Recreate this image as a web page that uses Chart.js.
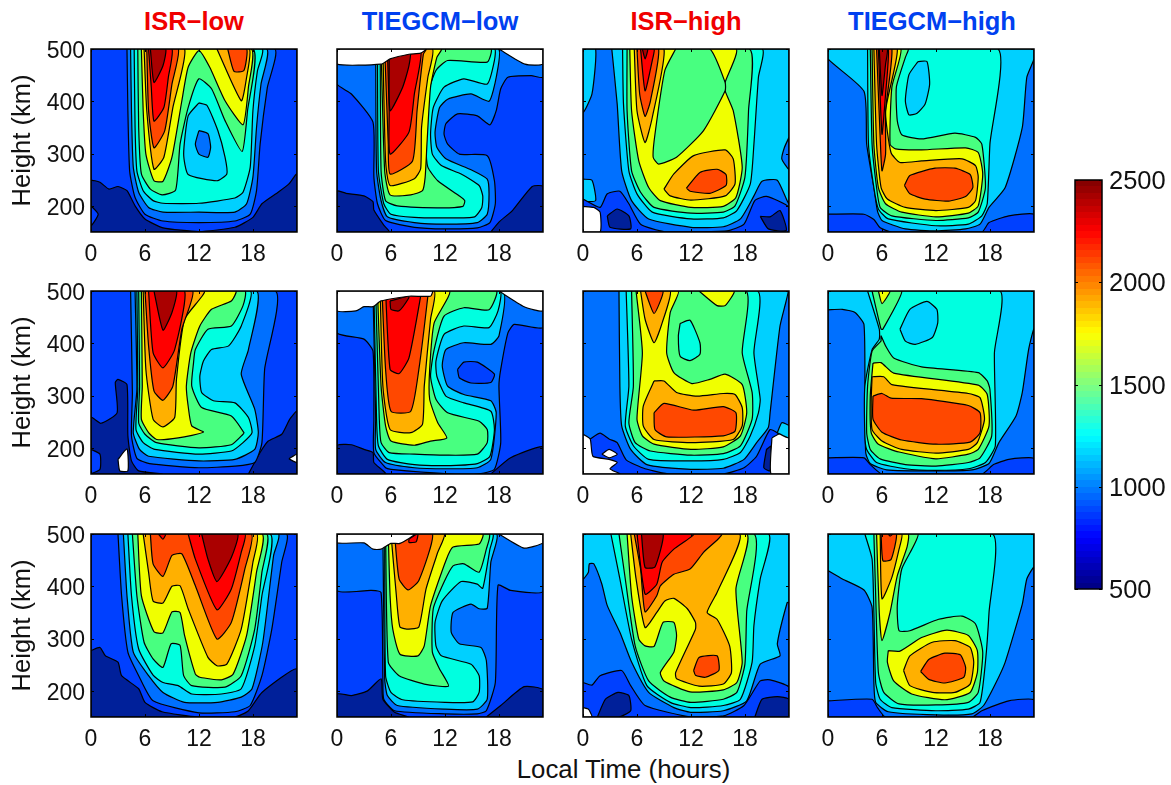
<!DOCTYPE html>
<html><head><meta charset="utf-8">
<script src="https://cdn.jsdelivr.net/npm/chart.js@4"></script>
<style>
html,body{margin:0;padding:0;background:#fff;width:1171px;height:785px;overflow:hidden;font-family:"Liberation Sans",Arial,sans-serif}
canvas{position:absolute}
.t{position:absolute;transform:translateX(-50%);white-space:nowrap}
.h{font-weight:bold;font-size:25.5px;top:7px}
</style></head><body>
<div class="t h" style="left:194px;color:#f00000">ISR−low</div>
<div class="t h" style="left:440px;color:#0040f0">TIEGCM−low</div>
<div class="t h" style="left:686px;color:#f00000">ISR−high</div>
<div class="t h" style="left:932px;color:#0040f0">TIEGCM−high</div>
<div class="t" style="left:623.5px;top:755px;font-size:25.8px;color:#111">Local Time (hours)</div>
<script>
// Band index -> fill colour (contour levels of the 500..2500 scale)
const bandColors=['#00209a','#0040ff','#0070ff','#00d0ff','#00ffe0','#48ff80','#f0ff00','#ffb000','#ff4800','#ff0000','#aa0000'];
const WHITE=-1;
const xTickValues=[0,6,12,18];
const yTickValues=[200,300,400,500];
const colorbarTicks=[500,1000,1500,2000,2500];
const colorbarRange=[500,2500];
const FULL=[0,500,0,150,22.9,150,22.9,500];
// Each panel: [band, [hour,km, hour,km, ...]] painted in order
const isrLow1=[[1,FULL],
[0,[0,150,0,248,1,245,2,232,3,237,4,229,4.9,200,6,175,8,158,12,151,16,159,18,178,19,204,20.8,226,22,242,22.9,261,22.9,150]],
[1,[0,200,0.8,184,0,162]],
[2,[4,500,4.1,382,4.3,266,4.9,216,6,184,8,171,12,168,16,171,17.7,184,18.4,229,18.8,318,19.6,426,20.4,500]],
[3,[4.4,500,4.5,382,4.7,274,5.3,226,6.4,197,8,188,12,188,16,188,17.3,204,18,255,18.4,350,18.9,433,19.5,500]],
[4,[4.8,500,4.9,350,5.1,267,5.8,229,6.9,210,8,205,12,205,16,215,16.9,226,17.7,274,18,382,18.5,458,19,500]],
[5,[5.2,500,5.3,350,5.6,261,6.6,232,7.9,221,9.4,230,9.9,318,10.8,388,12,443,13.4,424,14.9,363,16.8,304,17.4,382,18,500]],
[3,[12,397,10.8,372,10.3,299,10.8,260,14,248,15.1,261,14.9,293,14.1,344,12.9,392]],
[2,[12,344,11.6,318,12,299,13,293,13.3,312,13,338]],
[6,[5.6,500,5.8,382,6.1,299,7,248,8,247,9,293,10.1,401,10.8,465,12,497,13.2,465,14.9,401,16.9,355,17.5,427,17.8,500]],
[7,[5.9,500,6.2,382,7,270,8.1,293,9.1,388,10.4,500]],
[7,[14,500,16.7,401,17.3,446,17.6,500]],
[8,[6.2,500,6.4,382,7,311,8.2,344,9,433,9.7,500]],
[8,[15.2,500,15.9,457,17,459,17.3,500]],
[9,[6.4,500,6.7,427,7,362,8.1,388,8.6,446,9,500]],
[10,[6.6,500,7,436,8,468,8.3,500]]];
const tiegcmLow1=[[1,FULL],
[0,[0,150,0,228,1,224,3,219,4,208,4.1,192,5.2,163,5.8,150]],
[0,[17.1,150,18,169,19.5,191,21.7,237,22.9,237,22.9,150]],
[2,[0,500,0,433,1.6,414,4,360,4.1,255,4.5,204,5.4,172,8.6,159,12,156,15.6,158,17,168,17.6,204,17.5,248,16.7,296,13.6,299,12.3,318,11.9,337,12.1,357,13.4,376,15.6,372,17,355,17.7,382,18.2,424,19,446,21.6,449,22.9,446,22.9,500]],
[3,[4.3,500,4.4,267,4.9,210,5.6,179,8.6,168,12,165,15.6,168,16.7,184,16.9,223,16.7,251,14.9,269,12.1,290,11.1,312,10.9,341,11.4,388,12.3,404,14.9,414,16.9,400,17.7,446,17.9,500]],
[4,[4.5,500,4.6,267,5.2,204,6,184,8.6,178,12,177,15.3,179,16.1,197,16.2,219,15.8,239,13.8,261,11.6,277,10.6,299,10.4,337,10.7,388,11.9,427,14.1,443,16.7,433,17.5,478,17.5,500]],
[5,[4.8,500,4.9,267,5.4,210,6.7,200,12,196,14,199,14.2,210,13.6,219,11.2,248,10.1,274,9.9,318,10.1,414,11,459,12.3,478,16.7,475,17.1,500]],
[6,[4.9,500,5.3,267,5.9,221,8.2,221,9.5,229,9.8,255,10,318,10.4,427,11.1,484,11.6,500]],
[7,[5.1,500,5.4,286,5.9,239,8.6,252,9.3,271,9.4,350,10.1,446,10.6,500]],
[8,[5.3,500,5.7,318,5.9,261,8.4,286,8.9,382,9.6,490,9.9,500]],
[9,[5.6,500,5.8,382,5.9,299,8,341,8.6,414,9.3,500]],
[10,[5.8,500,5.9,382,7.3,427,8,468,8.1,500]],
[WHITE,[0,500,0,471,4.9,471,5.9,481,8,490,9.3,492,9.9,500]],
[WHITE,[18,500,20.9,471,22.9,471,22.9,500]]];
const isrHigh1=[[2,FULL],
[3,[0,500,1.4,500,1,414,0,379]],
[3,[0,251,1,249,1.4,210,0,210]],
[1,[0,213,1.9,197,2.7,223,4.1,228,5.1,204,6.4,165,9,151,16,152,17.9,165,19.1,210,20.4,218,22.9,197,22.9,150,0,150]],
[0,[2.7,181,3.8,194,5.1,181,5.3,156,3,159]],
[0,[19.7,180,20.8,179,21.9,191,22.6,153,20.6,156]],
[WHITE,[0,199,1.2,197,1.9,188,1.9,150,0,150]],
[3,[3.2,500,3.8,395,4.3,267,5.4,210,7.3,175,12,159,15.6,160,17.5,175,19,219,19.9,247,21.6,249,22.9,205,22.9,500]],
[2,[22.9,331,22.4,312,22.1,290,22.9,270]],
[4,[4.4,500,4.5,395,5.1,267,6,223,7.7,188,12,175,15.6,177,17.1,191,18.6,242,19,318,19.5,446,19.9,500]],
[5,[4.9,500,4.9,382,5.4,267,6.4,226,7.9,197,12,186,15.6,188,16.9,200,18,255,18.4,382,18.5,500]],
[6,[5.2,500,5.4,382,6.2,286,7.3,235,8.6,210,12,197,15.6,199,17,216,17.7,274,16.7,382,15.8,420,15.8,436,17,500]],
[5,[10.3,500,9.1,459,8,337,7.8,293,8.4,280,10.4,293,13.4,344,15.8,420,15.8,436,14.1,500]],
[7,[5.7,500,6,382,6.9,321,7.7,369,9,500]],
[7,[9,232,10.1,261,12.3,296,15.8,307,16.7,290,16.9,242,15.8,219,12,211,9.7,219]],
[8,[6,500,6.3,414,6.9,371,7.5,401,8.4,500]],
[8,[11.5,234,13,264,14.9,270,15.9,260,15.9,239,14.1,224,11.9,228]],
[9,[6.4,500,6.9,420,7.7,478,7.9,500]],
[10,[6.6,500,6.9,481,7.2,500]]];
const tiegcmHigh1=[[2,FULL],
[3,[0,500,0,481,4,419,4.3,318,5.1,235,5.5,190,6,172,8.6,156,12,152,15.3,156,16.9,165,17.9,197,19.7,235,21.6,350,22.1,446,22.9,481,22.9,500]],
[1,[0,184,4,184,5.1,174,5.8,158,7.1,150,17.1,150,17.9,168,20.1,181,22.9,184,22.9,150,0,150]],
[4,[4.4,500,4.5,318,5.1,235,5.6,194,6.7,175,12,162,15.6,165,17.1,181,17.7,204,18,318,18.9,500]],
[3,[10,476,11,476,11.3,433,10.8,395,9.9,377,9,374,8.6,401,9,451]],
[5,[4.7,500,4.9,318,5.4,235,5.8,197,7.1,181,12,172,15.6,177,16.7,188,17.5,235,17.1,318,16.4,331,14.1,339,10.4,328,8.2,336,7.7,363,7.6,427,8.6,484,8.9,500]],
[6,[4.9,500,5.1,318,5.6,235,6.4,204,8.2,188,12,179,15.6,186,16.7,200,17.2,261,16.7,302,15.3,311,10.4,307,7.5,309,6.9,318,7.1,427,8.1,500]],
[7,[5.1,500,5.4,318,5.9,235,6.6,213,8.6,197,12,191,15.6,197,16.4,210,16.7,255,16.4,277,14.9,290,10.4,286,8,283,7,302,6.4,382,7.7,500]],
[8,[8.5,239,9.1,258,11.9,272,14.1,272,15.8,260,16.1,235,15.3,218,13.4,209,10.8,213,9.1,223]],
[8,[5.4,500,5.8,331,6,267,6.4,299,6.4,382,7.1,500]],
[9,[5.6,500,6,337,6.4,414,6.7,500]],
[10,[5.7,500,6,411,6.4,471,6.6,500]]];
const isrLow2=[[1,FULL],
[0,[0,150,0,258,1.1,247,2.9,267,2.7,325,3,331,4,321,4.1,223,4.5,175,5.3,156,7.9,150]],
[0,[17.5,150,18.8,191,19.7,213,21.2,226,22.1,255,22.9,270,22.9,150]],
[1,[0,197,1,188,1,159,0,152]],
[WHITE,[3,178,4,198,4.1,156,3.2,156]],
[WHITE,[22,179,22.9,188,22.9,172]],
[2,[4.4,500,4.6,306,4.5,223,5.1,180,6.5,170,12,162,16,165,18.2,172,19,210,19.3,350,20.5,500]],
[3,[4.9,500,5.1,312,4.7,229,5.4,197,6.4,184,12,175,16,178,18.2,197,18.6,229,18.2,274,16.7,341,17.5,388,18.4,500]],
[4,[5.1,500,5.2,312,5,235,5.8,210,7.1,197,12,188,15.6,194,16.9,210,17.9,229,17.5,258,16,286,13.6,290,12.3,306,12.1,337,12.5,366,13.4,388,15.3,395,16.7,433,17.7,500]],
[5,[5.3,500,5.4,318,5.3,248,6,226,7.3,210,12,200,15.6,206,16.9,226,17,229,15.6,261,12.3,277,11.2,318,11.4,363,11.6,388,13,427,15.6,433,16.9,472,17.1,500]],
[6,[5.6,500,5.7,318,5.6,255,6.4,229,7.3,216,9.7,219,12.5,230,11.2,242,10.8,280,10.6,318,11.1,382,12.1,433,13.4,465,15.6,481,16.1,500]],
[7,[5.8,500,6.1,350,6.9,255,8,240,9.3,258,9.5,331,10.4,446,12.6,500]],
[8,[6,500,6.4,395,7,309,8,291,9.1,318,10.1,427,11.3,500]],
[9,[6.4,500,6.9,382,8,353,9.3,388,10.4,500]],
[10,[7,500,8,425,9,459,9.5,500]]];
const tiegcmLow2=[[1,FULL],
[0,[0,150,0,204,1.6,206,3,197,4,191,4.1,172,5.4,150]],
[0,[17.1,150,19.3,181,22.9,202,22.9,150]],
[2,[0,500,0,420,3,408,4,385,4.1,255,4.1,191,5.4,162,6,159,12,151,16,151,17.5,159,18.2,210,18,318,18.2,350,19,420,19.7,436,22.9,430,22.9,500]],
[1,[13.4,350,14.1,364,15.6,364,17.5,341,17.1,325,14.9,324,13.6,334]],
[3,[4,500,4.3,255,4.3,197,5.4,172,8.6,162,12,160,15.6,162,17.1,178,17.7,267,17.1,290,14.1,302,12.3,318,11.7,357,12.1,388,14.1,401,17.1,398,18,414,18.4,500]],
[4,[4.1,500,4.4,255,4.6,204,5.6,178,8.6,168,12,166,15.6,170,17,184,17.5,235,17.1,270,14.1,286,12.1,299,11.1,337,11,366,11.9,417,14.1,433,16.9,430,17.9,462,18.1,500]],
[5,[4.3,500,4.7,255,4.9,210,5.8,191,8.6,188,12,186,15.6,188,16.7,210,16.7,235,15.8,251,12.3,267,11,293,10.4,337,10.8,388,11.9,452,14.1,468,16.9,464,17.7,500]],
[6,[4.5,500,4.9,318,5.4,242,6,213,8.6,205,10.4,213,12.2,219,11.2,248,10.3,293,10.3,350,10.8,439,12.5,500]],
[7,[4.8,500,5.1,318,5.9,235,8.2,229,9.5,245,9.7,318,10.4,446,10.8,500]],
[8,[5,500,5.4,350,6,270,8.2,270,9.1,350,10.1,490,10.1,500]],
[9,[5.4,500,5.9,350,6.9,342,8,372,9.3,490,9.3,500]],
[10,[5.9,481,6,465,6.9,462,8,487,7.9,490]],
[WHITE,[0,500,0,462,2.1,462,3,470,4,470,4.9,481,8,490,10.4,490,10.6,500]],
[WHITE,[18,500,20.8,470,22.9,462,22.9,500]]];
const isrHigh2=[[2,FULL],
[1,[0.8,217,1.9,228,2.9,217,3.8,210,4.8,177,6.9,160,9.7,150,15.6,150,17.9,162,19.3,184,20.8,235,21.9,226,22.9,220,22.9,150,0,150]],
[0,[20.4,197,20.1,162,20.8,156,20.9,203]],
[WHITE,[0,226,0.8,217,1.1,184,2.9,178,3.8,172,3,160,4.1,150,0,150]],
[WHITE,[2.1,188,2.9,197,3.8,188,2.9,181]],
[WHITE,[21,219,21.9,227,22.9,218,22.9,150,20.9,150]],
[3,[21.6,229,22.1,248,22.9,242,22.9,219]],
[3,[4,500,4.1,318,4.3,242,5.3,197,7.1,168,12,159,15.6,161,17.9,178,19.3,210,20.6,239,20.8,267,21.9,433,22.8,500]],
[4,[4.8,500,5.1,318,4.7,242,5.6,204,7.3,178,12,175,15.6,178,17.5,191,18.6,223,19.5,267,19.7,293,19,382,19.4,500]],
[5,[5.4,500,5.6,318,5.1,248,5.8,210,7.5,194,12,186,15.6,189,17.5,204,18.8,255,18.8,306,17.7,382,18.1,500]],
[6,[5.9,500,6.6,382,6,255,6.6,223,7.9,207,12,197,15.6,202,17.5,223,18.2,267,17.7,321,15.8,341,14.1,331,12.1,323,10.1,344,9.3,382,9.7,459,10.6,500]],
[6,[12.9,500,14.9,472,15.8,472,16.8,500]],
[4,[10.8,438,11.9,444,13,401,13,379,11.9,367,10.8,375,10.6,414]],
[7,[6.4,500,6.9,446,7.9,401,8.8,439,9.7,500]],
[7,[7.9,328,9,328,10.4,306,12.7,299,15.6,304,16.9,302,17.7,277,17.7,242,16.7,216,12,210,7.9,216,6.7,242,6.7,280]],
[8,[6.9,500,7.9,457,8.9,500]],
[8,[7.9,267,9,285,12.3,272,15.6,279,17,267,16.9,232,15.6,223,9.3,221,8,235]]];
const tiegcmHigh2=[[3,FULL],
[2,[0,464,1.6,465,3,459,4,436,4.1,280,4.2,190,4.7,170,6.5,158,12,156,16,158,17.9,170,19,210,20.9,261,21.6,306,22.3,388,22.9,427,22.9,150,0,150]],
[1,[0,181,4,181,4.7,168,6,150,17.1,150,18.4,168,20.1,178,22.9,180,22.9,150,0,150]],
[4,[4.4,500,5.7,427,5.7,408,4.9,388,4.1,318,4.1,223,4.3,197,5.4,172,8.6,160,12,157,15.6,160,17.5,172,18.6,204,18.5,382,19.1,500]],
[3,[8,427,9.1,465,11,480,12.1,465,12.2,439,11.6,411,9.7,398,8.6,404]],
[5,[5.9,404,4.9,385,4.4,318,4.3,229,4.7,197,5.8,179,8.6,168,12,165,15.6,172,16.9,181,18.2,223,18,312,17.7,328,16.7,344,10.4,355,7.3,372,6.4,395,5.9,414]],
[5,[4.9,500,5.9,427,6.1,427,8.2,500]],
[6,[5.6,500,6,476,6.9,500]],
[6,[5,362,5.9,363,7.3,343,16.7,320,17.7,302,17.9,242,16.7,197,15.6,188,12,179,7.9,192,5.6,207,4.8,229,4.7,300]],
[7,[4.9,336,6.2,336,7.1,321,15.6,304,16.9,296,17.4,255,16.6,210,15.6,197,12,190,8.2,197,6,213,4.9,235,4.8,290]],
[8,[5,299,6,304,7,295,10.4,294,15.6,281,16.9,267,16.9,229,15.8,211,12,207,8.2,215,6,230,5,255]]];
const isrLow3=[[1,FULL],
[0,[0,277,1,283,1.6,267,3,255,3.4,229,5.3,204,6,178,7.9,160,11.9,150,16,150,17.5,162,19,197,22.9,242,22.9,150,0,150]],
[2,[3,500,3.4,382,4.1,274,5.3,229,6.9,181,12,158,16,160,17.7,172,19,229,20.1,318,21.2,446,21.7,500]],
[3,[3.6,500,4,382,4.7,274,6.4,229,8,197,10.4,178,14.1,178,16.7,188,17.9,204,19.1,293,20.3,459,20.8,500]],
[4,[4.1,500,4.5,382,5.3,280,6.9,230,8,216,9.7,210,11.2,194,14.5,194,16.7,204,18.2,286,19,382,19.9,500]],
[5,[4.6,500,5.1,382,5.9,293,6.9,261,8,245,8.9,290,9.9,287,10.3,229,11.2,210,14.9,207,16.7,229,18.2,318,19,427,19.5,500]],
[6,[5.2,500,5.6,382,7,313,8,311,9,351,9.9,350,10.4,306,11.6,232,12.1,226,14.5,221,15.8,232,17.3,306,18.4,427,19,500]],
[7,[5.8,500,6.4,427,6.9,372,8,368,9,400,9.9,401,10.8,357,13,264,14,248,15.1,251,16.7,318,18,446,18.4,500]],
[8,[6.6,500,6.9,443,8,419,9,459,10.1,462,11.6,401,14,299,15.6,331,17.1,433,17.8,500]],
[9,[10.8,500,11.6,452,14,355,15.6,395,16.7,465,17.1,500]],
[9,[7.5,500,8,490,8.3,500]],
[10,[12.3,500,13,452,14,409,15.6,455,16.3,500]]];
const tiegcmLow3=[[1,FULL],
[2,[0,500,0,392,3.8,392,4.9,388,5.1,223,5.2,184,6.4,162,12,156,15.6,156,16.6,162,17.6,216,17.9,402,19.3,392,22.9,390,22.9,500]],
[0,[0,150,0,194,1.6,191,3.4,200,4.9,223,5.1,184,6.4,159,7.9,150]],
[0,[16.6,150,18.2,172,20.8,208,22.9,202,22.9,150]],
[3,[5.1,500,5.3,223,5.6,191,6.7,172,12,165,15.6,165,16.7,184,16.6,258,16,283,13.6,290,12.7,312,12.9,350,14.9,366,15.8,357,16.7,358,17.1,446,17.7,500]],
[4,[5.3,500,5.4,229,6,197,7.3,183,12,178,15.1,179,15.8,197,15.8,229,14.9,251,11.6,267,11,286,10.9,331,11.7,372,13.8,409,15.6,404,16.2,396,17,471,17.3,500]],
[5,[5.4,500,5.7,255,6.9,229,9.7,213,12.4,209,11.4,242,10.6,274,10.7,357,11.9,408,12.9,439,14.1,443,15.8,427,16.6,471,16.9,500]],
[6,[5.7,500,5.9,382,6.2,318,7,270,9,267,9.7,286,10.4,363,12.1,449,12.9,475,15.8,481,16.2,500]],
[7,[6,500,6.6,382,7,322,8,318,9.1,322,9.9,395,11.2,465,11.9,500]],
[8,[6.4,500,6.9,414,7.9,393,9.1,411,10.6,500]],
[9,[8,490,8.6,497,9,500,8.8,485,8,484]],
[WHITE,[0,500,0,483,3,483,4,471,4.9,471,6,482,7,482,8.6,500]],
[WHITE,[18,500,20.8,473,22.9,483,22.9,500]]];
const isrHigh3=[[2,FULL],
[3,[0,500,0,414,0.6,427,0.7,443,1.2,443,2.1,404,2.7,363,4.1,312,5.4,255,7.3,197,10.1,168,12,159,15.6,162,18.2,181,19.7,251,21.9,267,21.6,290,22.7,369,22.9,369,22.9,500]],
[1,[0,216,1,211,1.9,229,4.3,239,5.3,210,6.9,172,12,150,15.6,152,17.9,172,19.7,219,20.8,221,22.9,207,22.9,150,0,150]],
[0,[1.6,150,2.5,184,3.9,197,5.1,191,5.3,162,4,150]],
[0,[19.1,150,19.9,184,21.6,189,22.9,184,22.9,150]],
[WHITE,[0,168,0.6,165,1,150,0,150]],
[4,[3.1,500,4.1,414,5.4,299,7.1,210,9.7,178,12,168,15.6,172,17.5,184,18.8,255,19,325,19.7,414,20.6,500]],
[5,[4,500,4.7,414,5.8,286,7.3,219,9.7,188,12,178,15.6,184,17.1,197,18,251,18.2,352,19,500]],
[6,[4.9,500,5.4,382,6.2,299,6.9,286,7.9,285,8.9,331,10.1,331,10.4,306,10.1,274,8.6,235,9,219,11.9,198,15.6,202,17.1,216,17.7,255,17,395,18.2,500]],
[7,[5.3,500,5.9,414,6.9,321,8.2,350,9.1,372,10.1,377,11.6,357,12.5,331,12.5,318,10.3,235,10.4,223,12.9,209,15.6,213,16.5,235,16.3,286,14.9,337,13.8,350,14.9,388,17.4,500]],
[8,[5.7,500,6.4,433,6.9,351,8.2,382,8.6,401,10.1,423,11.9,433,13.4,465,15.4,500]],
[8,[12.3,239,12.9,264,14.9,267,15.1,239,13.6,226,12.5,230]],
[9,[6,500,6.9,385,8.2,404,8.8,446,10.1,471,12.3,500]],
[10,[6.5,500,6.9,436,8,437,8.9,500]]];
const tiegcmHigh3=[[3,FULL],
[2,[0,430,1.6,414,4,393,4.9,360,5.1,216,5.3,178,6.7,160,12,154,16,156,17.3,172,18.6,213,19.7,255,21.6,366,22.1,414,22.9,436,22.9,150,0,150]],
[1,[0,181,4.9,184,5.5,168,6.4,150,16,150,17.1,162,20.1,181,22.9,183,22.9,150,0,150]],
[4,[4.1,500,4.9,452,5.1,350,5.3,216,5.8,184,7.1,168,12,162,15.6,165,16.9,178,17.5,255,17.9,350,18.3,500]],
[5,[5.1,500,5.3,382,5.6,235,6.2,197,7.9,175,12,173,15.6,178,16.7,197,17.2,274,16.4,328,14.9,343,12.3,337,9.1,315,7.9,315,7.7,363,8.2,433,10,500]],
[6,[5.4,500,5.7,350,6,296,6.9,350,7.7,420,8.8,476,8.9,500]],
[6,[6.7,277,8,276,10.4,302,13.2,316,15.6,306,16.6,277,16.6,235,15.8,197,13,183,9.3,194,7.3,219,6.6,255]],
[7,[5.8,500,6,376,7.1,417,7.9,471,8.2,500]],
[7,[8.4,239,9.1,267,11.6,293,14.1,296,15.8,283,16.2,255,15.8,213,14.1,197,11.6,197,9.1,210]],
[8,[5.9,500,6.1,449,7,451,7.6,500]],
[8,[10.3,237,11.2,260,13,272,14.7,269,15.3,245,15.1,226,13,215,11.2,222]],
[9,[6.7,500,6.9,496,7.2,500]]];

const panels=[
 [isrLow1,tiegcmLow1,isrHigh1,tiegcmHigh1],
 [isrLow2,tiegcmLow2,isrHigh2,tiegcmHigh2],
 [isrLow3,tiegcmLow3,isrHigh3,tiegcmHigh3]];

const colLeft=[91,337,583,828], rowTop=[49,291,534], W=206, H=183;
const mL=88,mR=14,mT=14,mB=34;
const tickFont={family:'"Liberation Sans",Arial,sans-serif',size:23};
const tickColor='#111';

const framePlugin={id:'frame',afterDraw(chart){
  const {ctx,chartArea:a,scales}=chart;
  ctx.save();ctx.strokeStyle='#000';ctx.lineWidth=1;
  ctx.beginPath();
  const xs=scales.x,ys=scales.y;
  if(xs.type==='linear')for(const v of xTickValues){const p=Math.round(xs.getPixelForValue(v))+.5;ctx.moveTo(p,a.bottom);ctx.lineTo(p,a.bottom-3);ctx.moveTo(p,a.top);ctx.lineTo(p,a.top+3);}
  const yv=xs.type==='linear'?yTickValues:colorbarTicks;
  for(const v of yv){const p=Math.round(ys.getPixelForValue(v))+.5;ctx.moveTo(a.left,p);ctx.lineTo(a.left+3,p);ctx.moveTo(a.right,p);ctx.lineTo(a.right-3,p);}
  ctx.stroke();
  ctx.lineWidth=1.5;ctx.strokeRect(a.left,a.top,a.right-a.left,a.bottom-a.top);
  ctx.restore();
}};

function toPoints(flat){
  const pts=[];
  for(let i=0;i<flat.length;i+=2)pts.push({x:flat[i],y:flat[i+1]});
  pts.push({x:flat[0],y:flat[1]});
  return pts;
}
panels.forEach((row,r)=>row.forEach((layers,c)=>{
  const cv=document.createElement('canvas');
  cv.width=W+mL+mR;cv.height=H+mT+mB;
  cv.style.left=(colLeft[c]-mL)+'px';cv.style.top=(rowTop[r]-mT)+'px';
  document.body.appendChild(cv);
  new Chart(cv,{type:'scatter',
    data:{datasets:layers.map(([band,flat],i)=>({
      data:toPoints(flat),showLine:true,fill:'shape',order:layers.length-i,
      backgroundColor:band===WHITE?'#ffffff':bandColors[band],
      borderColor:'#000',borderWidth:1.2,pointRadius:0,pointHoverRadius:0,tension:0.18,
      borderJoinStyle:'round'}))},
    plugins:[framePlugin],
    options:{responsive:false,animation:false,events:[],
      layout:{padding:{left:0,right:mR,top:mT,bottom:0}},
      plugins:{legend:{display:false},tooltip:{enabled:false},title:{display:false}},
      scales:{
        x:{type:'linear',min:0,max:22.9,grid:{display:false,drawTicks:false,tickLength:0},border:{display:false},
          afterBuildTicks:s=>{s.ticks=xTickValues.map(v=>({value:v}));},
          afterFit:s=>{s.height=mB;s.paddingLeft=0;s.paddingRight=0;},
          ticks:{font:tickFont,color:tickColor,autoSkip:false,maxRotation:0,padding:9,callback:v=>String(v)}},
        y:{type:'linear',min:150,max:500,grid:{display:false,drawTicks:false,tickLength:0},border:{display:false},
          afterBuildTicks:s=>{s.ticks=yTickValues.map(v=>({value:v}));},
          afterFit:s=>{s.width=mL;s.paddingTop=0;s.paddingBottom=0;},
          title:{display:c===0,text:'Height (km)',font:{family:tickFont.family,size:25.5},color:tickColor,padding:{top:5,bottom:0}},
          ticks:{display:c===0,font:tickFont,color:tickColor,autoSkip:false,padding:6,labelOffset:2.5,callback:v=>String(v)}}
      }}});
}));

// Colour bar
(function(){
  const cv=document.createElement('canvas');
  const left=1075,top=180,w=27,h=409,mr=69,mt=14,mb=14;
  cv.width=w+mr+2;cv.height=h+mt+mb;
  cv.style.left=(left-2)+'px';cv.style.top=(top-mt)+'px';
  document.body.appendChild(cv);
  const jet=t=>{const f=a=>Math.round(255*Math.max(0,Math.min(1,1.5-Math.abs(4*t-a))));return `rgb(${f(3)},${f(2)},${f(1)})`;};
  const grad=ctx=>{
    const a=ctx.chart.chartArea; if(!a)return '#0000ff';
    const g=ctx.chart.ctx.createLinearGradient(0,a.bottom,0,a.top);
    const n=64;
    for(let i=0;i<n;i++){const col=jet((i+.5)/n);g.addColorStop(i/n,col);g.addColorStop((i+1)/n,col);}
    return g;
  };
  new Chart(cv,{type:'bar',
    data:{labels:['scale'],datasets:[{data:[colorbarRange],backgroundColor:grad,barPercentage:1,categoryPercentage:1,borderWidth:0}]},
    plugins:[framePlugin],
    options:{responsive:false,animation:false,events:[],
      layout:{padding:{left:2,right:0,top:mt,bottom:mb}},
      plugins:{legend:{display:false},tooltip:{enabled:false}},
      scales:{
        x:{display:false,grid:{display:false}},
        y:{position:'right',min:500,max:2500,grid:{display:false,drawTicks:false,tickLength:0},border:{display:false},
          afterBuildTicks:s=>{s.ticks=colorbarTicks.map(v=>({value:v}));},
          afterFit:s=>{s.width=mr;s.paddingTop=0;s.paddingBottom=0;},
          ticks:{font:{family:tickFont.family,size:25.5},color:tickColor,autoSkip:false,padding:7,labelOffset:2,callback:v=>String(v)}}
      }}});
})();
</script>
</body></html>
